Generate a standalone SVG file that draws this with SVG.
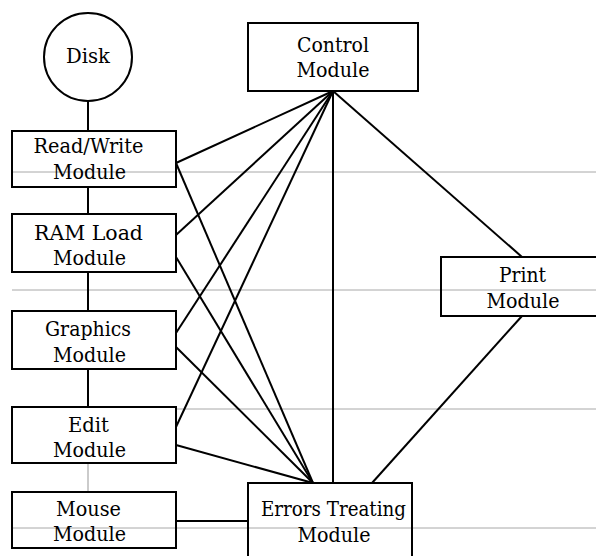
<svg xmlns="http://www.w3.org/2000/svg" width="596" height="556" viewBox="0 0 596 556">
<style>
.bg{fill:#fff}
.guide{stroke:#a8a8a8;stroke-width:1;fill:none}
.box{fill:none;stroke:#000;stroke-width:2}
.ln{stroke:#000;stroke-width:2;fill:none}
.thin{stroke:#a8a8a8;stroke-width:1.2;fill:none}
.t{fill:#000;text-anchor:middle;font-family:'DejaVu Serif',serif;font-size:21px}
</style>
<rect class="bg" x="0" y="0" width="596" height="556"/>
<g id="guides">
<line class="guide" x1="12" y1="172" x2="596" y2="172"/>
<line class="guide" x1="12" y1="290" x2="596" y2="290"/>
<line class="guide" x1="176" y1="409" x2="596" y2="409"/>
<line class="guide" x1="12" y1="528" x2="596" y2="528"/>
</g>
<g id="connectors">
<line class="ln" x1="88" y1="101" x2="88" y2="131"/>
<line class="ln" x1="88" y1="187" x2="88" y2="214"/>
<line class="ln" x1="88" y1="272" x2="88" y2="311"/>
<line class="ln" x1="88" y1="369" x2="88" y2="407"/>
<line class="thin" x1="88" y1="463" x2="88" y2="492"/>
<line class="ln" x1="176" y1="521" x2="248" y2="521"/>
<line class="ln" x1="176" y1="163" x2="333" y2="91"/>
<line class="ln" x1="176" y1="163" x2="313" y2="483"/>
<line class="ln" x1="176" y1="235" x2="333" y2="91"/>
<line class="ln" x1="176" y1="257" x2="313" y2="483"/>
<line class="ln" x1="176" y1="333" x2="333" y2="91"/>
<line class="ln" x1="176" y1="347" x2="313" y2="483"/>
<line class="ln" x1="176" y1="427" x2="333" y2="91"/>
<line class="ln" x1="176" y1="445" x2="313" y2="483"/>
<line class="ln" x1="333" y1="91" x2="333" y2="483"/>
<line class="ln" x1="333" y1="91" x2="522" y2="257"/>
<line class="ln" x1="522" y1="316" x2="372" y2="483"/>
</g>
<g id="disk">
<circle class="box" cx="88" cy="57" r="44"/>
<text class="t" x="88" y="63" textLength="44" lengthAdjust="spacingAndGlyphs">Disk</text>
</g>
<g id="readwrite">
<rect class="box" x="12" y="131" width="164" height="56"/>
<text class="t" x="88.5" y="153" textLength="110" lengthAdjust="spacingAndGlyphs">Read/Write</text>
<text class="t" x="89.5" y="179" textLength="73" lengthAdjust="spacingAndGlyphs">Module</text>
</g>
<g id="ramload">
<rect class="box" x="12" y="214" width="164" height="58"/>
<text class="t" x="88.5" y="240" textLength="109" lengthAdjust="spacingAndGlyphs">RAM Load</text>
<text class="t" x="89.5" y="265" textLength="73" lengthAdjust="spacingAndGlyphs">Module</text>
</g>
<g id="graphics">
<rect class="box" x="12" y="311" width="164" height="58"/>
<text class="t" x="88" y="336" textLength="86" lengthAdjust="spacingAndGlyphs">Graphics</text>
<text class="t" x="89.5" y="362" textLength="73" lengthAdjust="spacingAndGlyphs">Module</text>
</g>
<g id="edit">
<rect class="box" x="12" y="407" width="164" height="56"/>
<text class="t" x="88.5" y="432" textLength="41" lengthAdjust="spacingAndGlyphs">Edit</text>
<text class="t" x="89.5" y="457" textLength="73" lengthAdjust="spacingAndGlyphs">Module</text>
</g>
<g id="mouse">
<rect class="box" x="12" y="492" width="164" height="56"/>
<text class="t" x="88.5" y="516" textLength="65" lengthAdjust="spacingAndGlyphs">Mouse</text>
<text class="t" x="89.5" y="541" textLength="73" lengthAdjust="spacingAndGlyphs">Module</text>
</g>
<g id="control">
<rect class="box" x="248" y="23" width="170" height="68"/>
<text class="t" x="333" y="52" textLength="72" lengthAdjust="spacingAndGlyphs">Control</text>
<text class="t" x="333" y="77" textLength="73" lengthAdjust="spacingAndGlyphs">Module</text>
</g>
<g id="print">
<rect class="box" x="441" y="257" width="164" height="59"/>
<text class="t" x="522.5" y="282" textLength="47" lengthAdjust="spacingAndGlyphs">Print</text>
<text class="t" x="523" y="308" textLength="73" lengthAdjust="spacingAndGlyphs">Module</text>
</g>
<g id="errors">
<rect class="box" x="248" y="483" width="164" height="82"/>
<text class="t" x="333.5" y="516" textLength="145" lengthAdjust="spacingAndGlyphs">Errors Treating</text>
<text class="t" x="334" y="542" textLength="73" lengthAdjust="spacingAndGlyphs">Module</text>
</g>
</svg>
